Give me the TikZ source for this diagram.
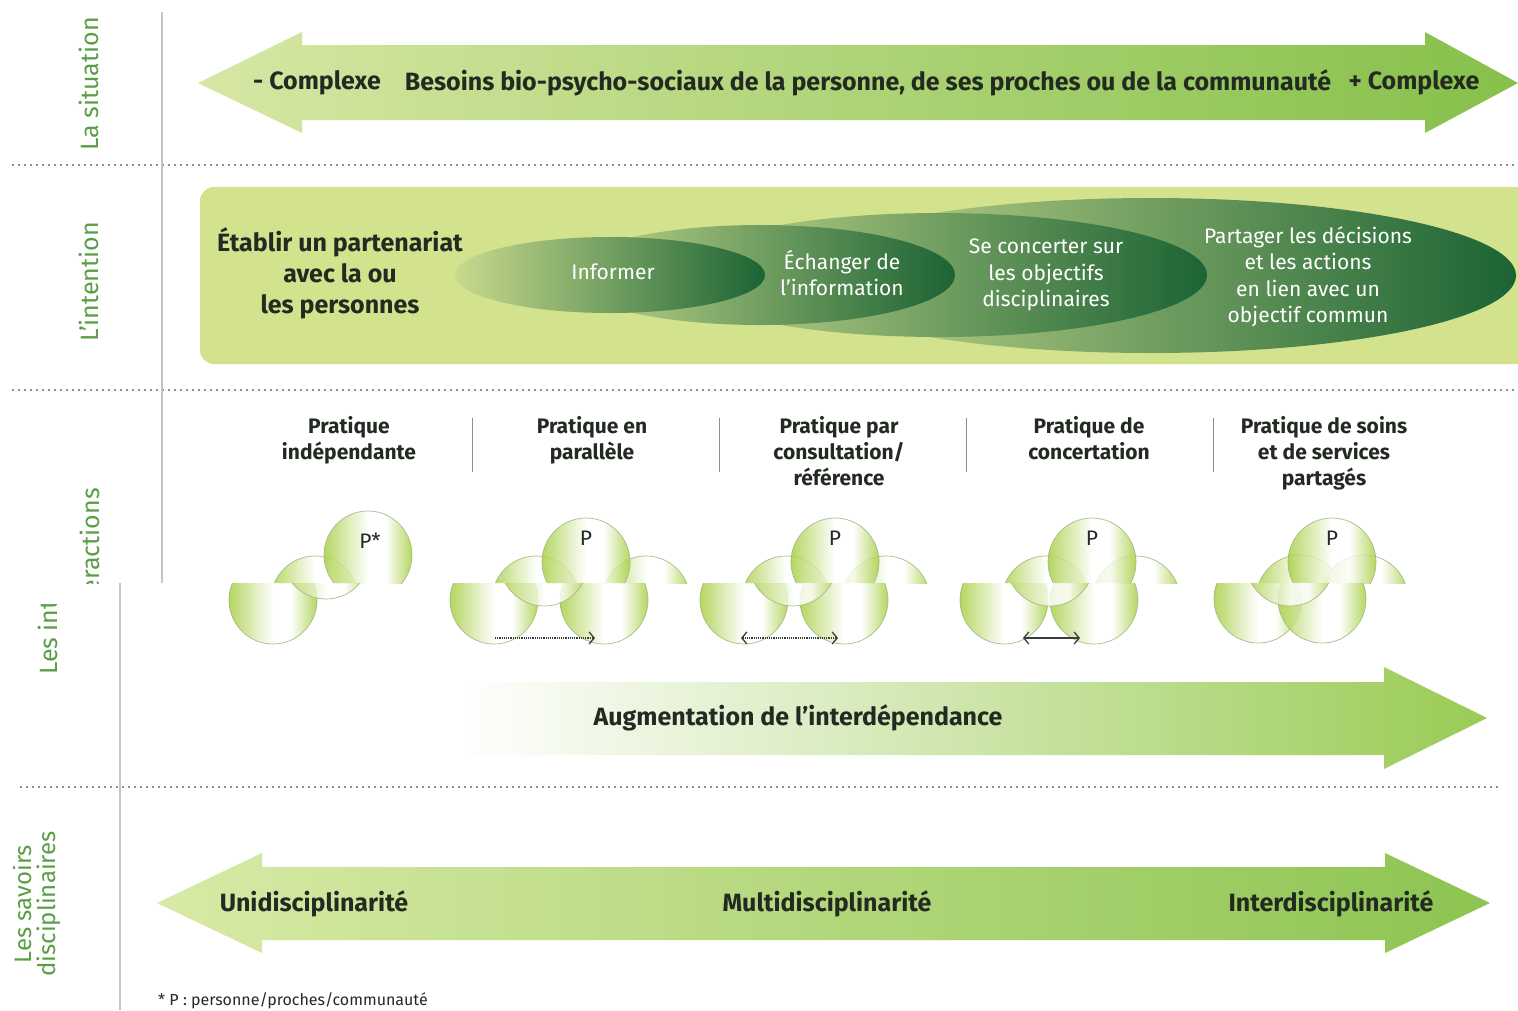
\documentclass[tikz,border=0pt]{standalone}
\usepackage{fontspec}
\setmainfont{Fira Sans}
\usepackage{tikz}
\usetikzlibrary{arrows.meta}

\definecolor{labGreen}{HTML}{5A9E46}
\definecolor{txtDark}{HTML}{232A22}
\definecolor{sepGray}{HTML}{8E8E8E}
\definecolor{lineGray}{HTML}{C4C4C4}
\definecolor{sitLight}{HTML}{D6E7A4}
\definecolor{sitDark}{HTML}{86C04A}
\definecolor{bandGreen}{HTML}{D3E28C}
\definecolor{ellLight}{HTML}{C8DA8E}
\definecolor{ellMid}{HTML}{6E9C5C}
\definecolor{ellDark}{HTML}{1C6334}
\definecolor{bubGreen}{HTML}{A6CE3F}
\definecolor{bubEdge}{HTML}{9DB883}
\definecolor{augMid}{HTML}{D6EAAA}
\definecolor{augDark}{HTML}{9ACB55}
\definecolor{savLight}{HTML}{D8EAA6}
\definecolor{savDark}{HTML}{8DC451}
\definecolor{linkGray}{HTML}{3C3C3C}

\pgfdeclarehorizontalshading{bubbleshade}{100bp}{color(0bp)=(bubGreen); color(25bp)=(bubGreen); color(50bp)=(white); color(60bp)=(white); color(75bp)=(bubGreen); color(100bp)=(bubGreen)}

\tikzset{
  sidelbl/.style={text=labGreen, font=\fontsize{25}{30}\selectfont, rotate=90, inner sep=0pt},
  bigtxt/.style={text=txtDark, font=\fontsize{25}{31}\selectfont\bfseries, inner sep=0pt},
  headtxt/.style={text=txtDark, font=\fontsize{21}{26}\selectfont\bfseries, align=center, inner sep=0pt, anchor=north},
  elltxt/.style={text=white, font=\fontsize{21}{26.5}\selectfont, align=center, inner sep=0pt},
  ptxt/.style={text=txtDark, font=\fontsize{21}{24}\selectfont, inner sep=0pt},
  bubble/.style={shading=bubbleshade, draw=bubEdge, line width=0.7pt, fill opacity=0.82, draw opacity=0.9},
  ellshade/.style={left color=ellLight, middle color=ellMid, right color=ellDark},
  septr/.style={draw=sepGray, line width=1.6pt, dash pattern=on 1.6pt off 4.4pt},
  vline/.style={draw=lineGray, line width=1.2pt},
  colsep/.style={draw=sepGray, line width=1pt},
  dotlink/.style={draw=linkGray, line width=1.2pt, densely dotted},
  barb/.tip={Straight Barb[length=5pt, width=12pt, line width=1.3pt]},
}

\newcommand{\bubblerow}{%
  \path[bubble] (315,600) circle[radius=44pt];
  \path[bubble] (368,555) circle[radius=44pt];
  \node[ptxt] (pIndep) at (370,541) {P*};
  \path[bubble] (536,600) circle[radius=44pt];
  \path[bubble] (646,600) circle[radius=44pt];
  \path[bubble] (586,562) circle[radius=44pt];
  \node[ptxt] (pParal) at (586,538) {P};
  \coordinate (paralL) at (537,638);
  \coordinate (paralR) at (637,638);
  \draw[dotlink, -barb] (paralL) -- (paralR);
  \path[bubble] (786,600) circle[radius=44pt];
  \path[bubble] (886,600) circle[radius=44pt];
  \path[bubble] (835,562) circle[radius=44pt];
  \node[ptxt] (pConsul) at (835,538) {P};
  \coordinate (consulL) at (783,638);
  \coordinate (consulR) at (880,638);
  \draw[dotlink, barb-barb] (consulL) -- (consulR);
  \path[bubble] (1046,600) circle[radius=44pt];
  \path[bubble] (1136,600) circle[radius=44pt];
  \path[bubble] (1092,562) circle[radius=44pt];
  \node[ptxt] (pConcert) at (1092,538) {P};
  \coordinate (concertL) at (1065,638);
  \coordinate (concertR) at (1122,638);
  \draw[draw=linkGray, line width=1.6pt, barb-barb] (concertL) -- (concertR);
  \path[bubble] (1300,599) circle[radius=44pt];
  \path[bubble] (1364,599) circle[radius=44pt];
  \path[bubble] (1332,562) circle[radius=44pt];
  \node[ptxt] (pPartage) at (1332,538) {P};
}

\begin{document}
\begin{tikzpicture}[x=1pt,y=-1pt]
  \useasboundingbox (0,0) rectangle (1518,1010);
  \clip (0,0) rectangle (1518,1010);
  \fill[white] (0,0) rectangle (1518,1010);

  \draw[septr] (12,165) -- (1518,165);
  \draw[septr] (12,390) -- (1518,390);
  \draw[septr] (20,787) -- (1500,787);
  \draw[vline] (162,12) -- (162,583);
  \draw[vline] (120,583) -- (120,1010);

  \node[sidelbl] (lblSituation) at (89,84) {La situation};
  \node[sidelbl] (lblIntention) at (89,282) {L'intention};
  \begin{scope}
    \clip (60,400) rectangle (140,583);
    \node[sidelbl, anchor=east] (lblInterTop) at (90,488) {Les interactions};
  \end{scope}
  \begin{scope}
    \clip (0,604) rectangle (110,780);
    \node[sidelbl, anchor=west] (lblInterLow) at (48,675) {Les interactions};
  \end{scope}
  \begin{scope}
    \clip (13,800) rectangle (110,1000);
    \node[sidelbl, align=center, font=\fontsize{24}{24}\selectfont] (lblSavoirs) at (37,904) {Les savoirs\\disciplinaires};
  \end{scope}

  \shade[left color=sitLight, right color=sitDark] (198,83) -- (302,32) -- (302,45) -- (1425,45) -- (1425,32) -- (1518,83) -- (1425,133) -- (1425,120) -- (302,120) -- (302,133) -- cycle;
  \node[bigtxt] (lessCx) at (317,83) {- Complexe};
  \node[bigtxt] (needs) at (868,83) {Besoins bio-psycho-sociaux de la personne, de ses proches ou de la communauté};
  \node[bigtxt] (moreCx) at (1414,83) {+ Complexe};

  \fill[bandGreen, rounded corners=14pt] (200,187) rectangle (1560,364);
  \node[bigtxt, align=center] (partner) at (340,273) {Établir un partenariat\\avec la ou\\les personnes};
  \shade[ellshade] (1151,275.5) ellipse [x radius=365pt, y radius=77.5pt];
  \shade[ellshade] (939,275) ellipse [x radius=268pt, y radius=62pt];
  \shade[ellshade] (760,275) ellipse [x radius=195pt, y radius=50pt];
  \shade[ellshade] (610,275) ellipse [x radius=155pt, y radius=38pt];
  \node[elltxt] (inform) at (613,272) {Informer};
  \node[elltxt] (exchange) at (842,273) {Échanger de\\l'information};
  \node[elltxt] (concert) at (1046,275) {Se concerter sur\\les objectifs\\disciplinaires};
  \node[elltxt] (share) at (1308,277) {Partager les décisions\\et les actions\\en lien avec un\\objectif commun};

  \node[headtxt] (hIndep) at (349,416) {Pratique\\indépendante};
  \node[headtxt] (hParal) at (592,416) {Pratique en\\parallèle};
  \node[headtxt] (hConsul) at (839,416) {Pratique par\\consultation/\\référence};
  \node[headtxt] (hConcert) at (1089,416) {Pratique de\\concertation};
  \node[headtxt] (hPartage) at (1324,416) {Pratique de soins\\et de services\\partagés};
  \draw[colsep] (472,418) -- (472,472);
  \draw[colsep] (719,418) -- (719,472);
  \draw[colsep] (966,418) -- (966,472);
  \draw[colsep] (1213,418) -- (1213,472);

  \begin{scope}
    \clip (150,480) rectangle (1518,583);
    \bubblerow
  \end{scope}
  \begin{scope}
    \clip (0,583) rectangle (1518,660);
    \begin{scope}[xshift=-42pt]
      \bubblerow
    \end{scope}
  \end{scope}

  \shade[left color=white, middle color=augMid, right color=augDark] (457,682) -- (1384,682) -- (1384,667) -- (1487,718) -- (1384,769) -- (1384,755) -- (457,755) -- cycle;
  \node[bigtxt] (augm) at (798,718) {Augmentation de l'interdépendance};

  \shade[left color=savLight, right color=savDark] (157,903) -- (262,853) -- (262,867) -- (1385,867) -- (1385,853) -- (1490,903) -- (1385,953) -- (1385,940) -- (262,940) -- (262,953) -- cycle;
  \node[bigtxt] (uni) at (314,904) {Unidisciplinarité};
  \node[bigtxt] (multi) at (827,904) {Multidisciplinarité};
  \node[bigtxt] (inter) at (1331,904) {Interdisciplinarité};

  \node[text=txtDark, font=\fontsize{16}{20}\selectfont, inner sep=0pt, anchor=west] (note) at (158,1001) {* P : personne/proches/communauté};
\end{tikzpicture}
\end{document}
